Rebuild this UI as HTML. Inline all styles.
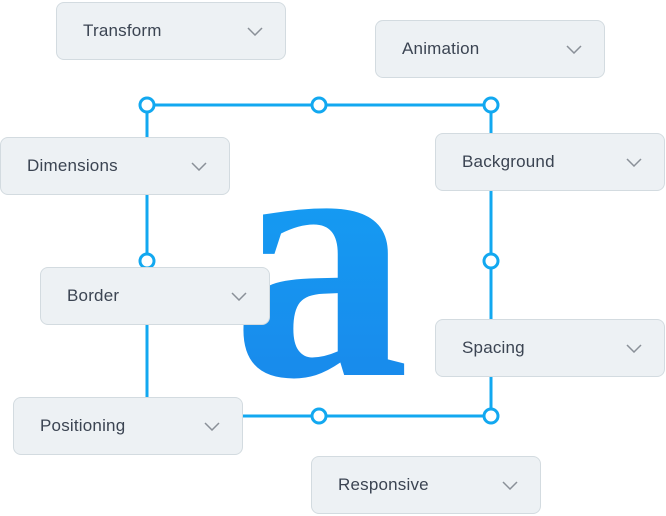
<!DOCTYPE html>
<html><head><style>
body{margin:0;width:666px;height:516px;background:#fff;position:relative;overflow:hidden;font-family:"Liberation Sans",sans-serif}
.b{position:absolute;width:230px;height:58px;background:#edf1f4;border:1px solid #d3dbe0;border-radius:8px;box-sizing:border-box;font-size:17px;color:#3b4452;line-height:56px;padding-left:26px;letter-spacing:.2px}
.b svg{position:absolute;right:22px;top:24px}
.a{position:absolute;left:232px;top:78px;font-family:"Liberation Serif",serif;font-size:355px;font-weight:bold;line-height:355px;background:linear-gradient(180deg,#12a5f6,#1a86ea);-webkit-background-clip:text;color:transparent}
</style></head><body>
<svg width="666" height="516" style="position:absolute;left:0;top:0">
<g stroke="#12a8f0" stroke-width="3" fill="#fff">
<rect x="147" y="105" width="344" height="311" fill="none"/>
<circle cx="147" cy="105" r="7"/><circle cx="319" cy="105" r="7"/><circle cx="491" cy="105" r="7"/>
<circle cx="147" cy="261" r="7"/><circle cx="491" cy="261" r="7"/>
<circle cx="319" cy="416" r="7"/><circle cx="491" cy="416" r="7"/>
</g></svg>
<div class="a">a</div>
<div class="b" style="left:56px;top:2px">Transform<svg width="16" height="9"><path d="M1 1l7 7 7-7" stroke="#8a9098" stroke-width="1.5" fill="none"/></svg></div>
<div class="b" style="left:375px;top:20px">Animation<svg width="16" height="9"><path d="M1 1l7 7 7-7" stroke="#8a9098" stroke-width="1.5" fill="none"/></svg></div>
<div class="b" style="left:0px;top:137px">Dimensions<svg width="16" height="9"><path d="M1 1l7 7 7-7" stroke="#8a9098" stroke-width="1.5" fill="none"/></svg></div>
<div class="b" style="left:435px;top:133px">Background<svg width="16" height="9"><path d="M1 1l7 7 7-7" stroke="#8a9098" stroke-width="1.5" fill="none"/></svg></div>
<div class="b" style="left:40px;top:267px">Border<svg width="16" height="9"><path d="M1 1l7 7 7-7" stroke="#8a9098" stroke-width="1.5" fill="none"/></svg></div>
<div class="b" style="left:435px;top:319px">Spacing<svg width="16" height="9"><path d="M1 1l7 7 7-7" stroke="#8a9098" stroke-width="1.5" fill="none"/></svg></div>
<div class="b" style="left:13px;top:397px">Positioning<svg width="16" height="9"><path d="M1 1l7 7 7-7" stroke="#8a9098" stroke-width="1.5" fill="none"/></svg></div>
<div class="b" style="left:311px;top:456px">Responsive<svg width="16" height="9"><path d="M1 1l7 7 7-7" stroke="#8a9098" stroke-width="1.5" fill="none"/></svg></div>
</body></html>
